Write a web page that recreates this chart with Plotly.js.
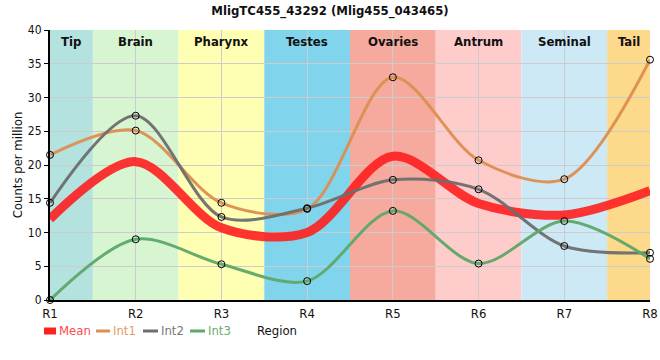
<!DOCTYPE html>
<html><head><meta charset="utf-8">
<script src="https://cdn.plot.ly/plotly-3.0.1.min.js"></script>
<style>html,body{margin:0;padding:0;background:#fff}</style>
</head><body><div id="chart" style="width:660px;height:360px"></div>
<script>
const regions = ['R1','R2','R3','R4','R5','R6','R7','R8'];
const bandNames = ['Tip','Brain','Pharynx','Testes','Ovaries','Antrum','Seminal','Tail'];
const bandColors = ['#b3e2df','#d6f5d0','#ffffb3','#80d4ec','#f5aa9d','#ffcccc','#cde9f5','#fcd98b'];
const mean = [12.0, 20.5, 10.7, 10.0, 21.3, 14.3, 12.6, 16.2];
const int1 = [21.5, 25.1, 14.4, 13.5, 33.0, 20.7, 17.9, 35.6];
const int2 = [14.4, 27.3, 12.3, 13.6, 17.8, 16.4, 8.0, 7.0];
const int3 = [0.0, 9.0, 5.3, 2.8, 13.2, 5.4, 11.7, 6.1];
const seriesNames = ['Mean','Int1','Int2','Int3'];
const seriesColors = ['#ff2020','#dd8f52','#6e6e6e','#5ea86a'];
const legendColors = ['#ff4a4a','#e59a62','#777777','#6aac72'];

const FONT = '"DejaVu Sans Condensed","Liberation Sans Narrow",Arial,sans-serif';
const series = [mean,int1,int2,int3];
const traces = [];
series.forEach((s,i)=>{
  traces.push({
    x: regions, y: s, type:'scatter', mode:'lines', name: seriesNames[i], showlegend:false,
    line:{color:seriesColors[i], width: i===0?9:3, shape:'spline', smoothing:0.9},
    opacity: i===0?0.9:0.95, hoverinfo:'skip'
  });
});
[int1,int2,int3].forEach(s=>{
  traces.push({
    x: regions, y: s, type:'scatter', mode:'markers', showlegend:false,
    marker:{symbol:'circle', size:7, color:'rgba(0,0,0,0)', line:{color:'#000', width:1}},
    hoverinfo:'skip', cliponaxis:false
  });
});

const px2x = p => (p-50)/600;
const py2y = p => (300-p)/270;

const shapes = bandNames.map((b,i)=>({
  type:'rect', xref:'x', yref:'paper', layer:'below',
  x0: Math.max(0, i-0.5), x1: Math.min(regions.length-1, i+0.5), y0:0, y1:1,
  fillcolor: bandColors[i], line:{width:0}
}));
const annotations = bandNames.map((b,i)=>({
  x: (Math.max(0,i-0.5)+Math.min(regions.length-1,i+0.5))/2,
  y: 1, xref:'x', yref:'paper', yanchor:'top', yshift:-2, showarrow:false,
  text:'<b>'+b+'</b>', font:{family:FONT, size:13, color:'#111'}
}));

// custom legend (symbols + colored labels)
const legSym = [[44,56],[96,110],[143,158],[190,205]];
seriesNames.forEach((n,i)=>{
  const [a,b] = legSym[i];
  if (i===0) {
    shapes.push({type:'rect', xref:'paper', yref:'paper', x0:px2x(a), x1:px2x(b),
      y0:py2y(334.5), y1:py2y(327.5), fillcolor:seriesColors[i], line:{width:0}});
  } else {
    shapes.push({type:'line', xref:'paper', yref:'paper', x0:px2x(a), x1:px2x(b),
      y0:py2y(331), y1:py2y(331), line:{color:seriesColors[i], width:3}});
  }
  annotations.push({x:px2x(b+1), y:py2y(331), xref:'paper', yref:'paper', xanchor:'left', yanchor:'middle',
    showarrow:false, text:n, font:{family:FONT, size:13, color:legendColors[i]}});
});
annotations.push({x:px2x(277), y:py2y(331), xref:'paper', yref:'paper', xanchor:'center', yanchor:'middle',
  showarrow:false, text:'Region', font:{family:FONT, size:13, color:'#111'}});

const layout = {
  width:660, height:360,
  margin:{l:50, r:10, t:30, b:60},
  paper_bgcolor:'#fff', plot_bgcolor:'#fff',
  title:{text:'<b>MligTC455_43292 (Mlig455_043465)</b>', x:0.5, xanchor:'center', y:0.985, yanchor:'top',
    font:{family:FONT, size:13, color:'#111'}},
  xaxis:{type:'category', range:[0,7], showgrid:true, gridcolor:'#cccccc', gridwidth:1,
    showline:true, linecolor:'#000', linewidth:2, ticks:'', zeroline:false,
    tickfont:{family:FONT, size:13, color:'#111'}, fixedrange:true},
  yaxis:{range:[0,40], dtick:5, showgrid:true, gridcolor:'#cccccc', gridwidth:1,
    showline:true, linecolor:'#000', linewidth:2, ticks:'outside', ticklen:4, tickcolor:'#000',
    zeroline:false, tickfont:{family:FONT, size:12, color:'#111'},
    title:{text:'Counts per million', font:{family:FONT, size:13, color:'#111'}, standoff:2}, fixedrange:true},
  shapes: shapes, annotations: annotations,
  showlegend:false
};
Plotly.newPlot('chart', traces, layout, {displayModeBar:false, staticPlot:true});
</script></body></html>
